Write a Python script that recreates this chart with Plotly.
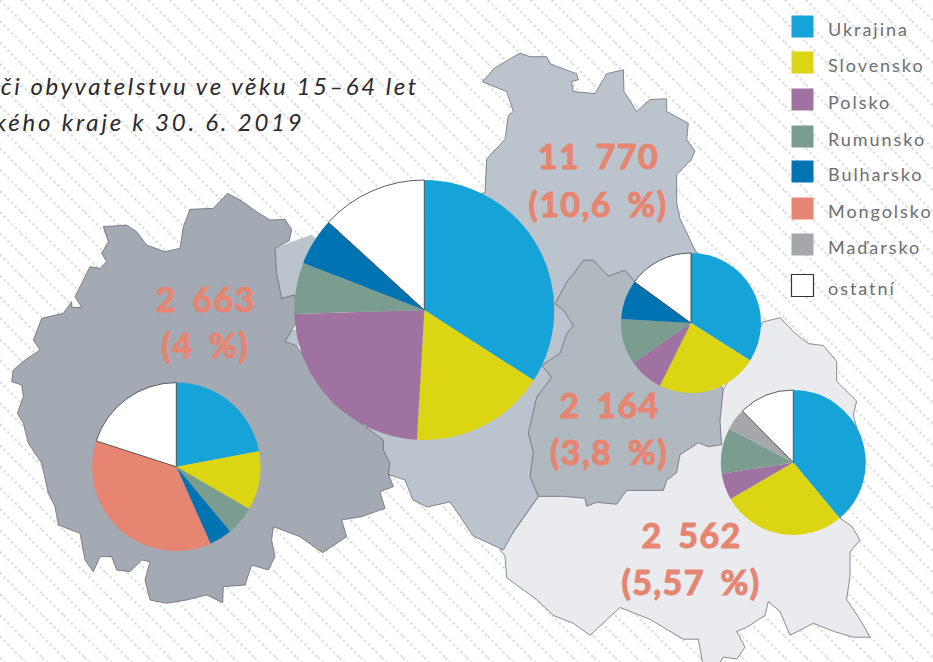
import plotly.graph_objects as go

W, H = 933, 662

# ---- data ----
countries = ["Ukrajina", "Slovensko", "Polsko", "Rumunsko", "Bulharsko", "Mongolsko", "Maďarsko", "ostatní"]
colors = ["#16a3d8", "#dcd513", "#a072a2", "#7b9d8f", "#0074b2", "#e58572", "#a5a7ab", "#ffffff"]
west_values = [22.0, 11.3, 0, 5.6, 4.4, 36.6, 0, 20.0]
center_values = [34.1, 16.8, 23.6, 6.4, 5.9, 0, 0, 13.2]
mid_values = [34.0, 23.4, 8.0, 10.6, 9.1, 0, 0, 15.0]
east_values = [39.0, 27.7, 5.9, 10.2, 0, 0, 4.9, 12.4]

labels_west = ["2 663", "(4 %)"]
labels_center = ["11 770", "(10,6 %)"]
labels_mid = ["2 164", "(3,8 %)"]
labels_east = ["2 562", "(5,57 %)"]
title_lines = ["či obyvatelstvu ve věku 15–64 let", "kého kraje k 30. 6. 2019"]

west_z1 = [(683,70),(720,90),(770,125),(810,150),(855,148),(875,180),(868,212),(825,235),(830,310),(845,385),(883,375),(900,430),(875,482),(855,515),(890,527),(1000,700),(1150,810),(1150,840),(1170,880),(1165,910),(1180,950),(1140,965),(1155,1015),(1085,1040),(1025,1050),(1040,1100),(968,1148),(900,1100),(820,1070),(815,1110),(825,1160),(805,1200),(755,1185),(735,1245),(670,1250),(668,1298),(620,1275),(560,1290),(500,1300),(450,1290),(435,1230),(450,1175),(425,1170),(390,1205),(350,1200),(335,1160),(300,1160),(280,1205),(255,1170),(240,1090),(175,1065),(165,1010),(145,970),(125,880),(85,820),(70,760),(52,730),(70,680),(65,645),(35,635),(40,600),(75,570),(120,540),(100,510),(125,445),(190,430),(215,395),(215,412),(245,412),(225,380),(270,290),(300,295),(320,275),(305,250),(325,215),(310,170),(380,165),(410,185),(440,225),(495,245),(540,235),(550,170),(570,118),(640,115)]
center_z2 = [(97,105),(135,70),(210,33),(240,42),(290,42),(300,60),(380,85),(385,100),(365,105),(370,130),(435,135),(470,85),(520,75),(522,130),(560,180),(600,150),(650,148),(650,180),(715,210),(710,250),(735,280),(725,300),(680,340),(680,410),(690,450),(735,530),(760,560),(500,800),(265,1150),(240,1180),(190,1240),(160,1285),(70,1250),(0,1164),(-69,1177),(-111,1159),(-135,1109),(-180,1096),(-250,1050),(-250,600),(0,400),(105,385),(110,300),(165,250),(175,190),(190,180),(170,130)]
center_notch_z1 = [(825,235),(935,195),(1000,260),(1000,400),(885,375),(845,385),(830,310)]
center_island_z1 = [(855,515),(875,480),(950,480),(950,530),(890,525)]
mid_z2 = [(400,555),(430,555),(475,595),(525,580),(555,610),(700,700),(820,880),(810,960),(815,1020),(775,1025),(745,1015),(690,1045),(680,1090),(650,1110),(640,1135),(590,1135),(530,1135),(500,1170),(440,1165),(410,1175),(405,1155),(340,1150),(265,1150),(240,1100),(250,1040),(235,990),(260,900),(305,850),(275,820),(330,790),(350,740),(370,720),(340,680),(315,665),(350,610),(370,590)]
east_z2 = [(940,710),(990,700),(1030,735),(1075,765),(1120,770),(1160,810),(1160,860),(1220,910),(1210,945),(1240,1040),(1170,1205),(1205,1225),(1230,1260),(1200,1290),(1200,1350),(1190,1410),(1230,1460),(1260,1505),(1210,1505),(1150,1490),(1090,1470),(1020,1500),(990,1440),(955,1415),(945,1450),(890,1480),(860,1490),(885,1530),(860,1560),(820,1555),(800,1580),(760,1580),(745,1510),(700,1510),(600,1460),(510,1430),(420,1500),(370,1470),(310,1450),(260,1410),(170,1355),(165,1300),(150,1285),(190,1240),(240,1180),(265,1150),(600,1000),(820,880)]


def z1(pts):
    return [(x / 3, 170 + y / 3) for x, y in pts]


def z2(pts):
    return [(450 + x / 3, 40 + y / 2.52) for x, y in pts]


fig = go.Figure()

# hatched page background
fig.add_trace(go.Scatter(
    x=[0, W, W, 0, 0], y=[0, 0, H, H, 0], mode="none", fill="toself", fillcolor="#ffffff",
    fillpattern=dict(shape="\\", size=15, solidity=0.13, fgcolor="#d6d6d6", bgcolor="#ffffff", fillmode="replace"),
    hoverinfo="skip", showlegend=False))


def region(pts, color, line="#5a5f66"):
    xs = [p[0] for p in pts] + [pts[0][0]]
    ys = [p[1] for p in pts] + [pts[0][1]]
    fig.add_trace(go.Scatter(x=xs, y=ys, mode="lines", fill="toself", fillcolor=color,
                             line=dict(color=line, width=0.7), hoverinfo="skip", showlegend=False))


region(z2(east_z2), "#e9ebef")
region(z2(center_z2), "#bbc4cd")
region(z1(center_notch_z1), "#bbc4cd", "#bbc4cd")
region(z1(center_island_z1), "#bbc4cd", "#bbc4cd")
region(z1(west_z1), "#a3aab3")
region(z2(mid_z2), "#b0b8c0")

# legend
legend_y = [26.5, 62.5, 99.5, 136.5, 171.5, 208.5, 244.5, 285.5]
for name, col, ly in zip(countries, colors, legend_y):
    fig.add_trace(go.Scatter(
        x=[802.5], y=[ly], mode="markers", showlegend=False, hoverinfo="skip",
        marker=dict(symbol="square", size=22, color=col,
                    line=dict(color="#333333" if col == "#ffffff" else col, width=1.2 if col == "#ffffff" else 0))))
    fig.add_annotation(x=826, y=ly + 2, text=name, showarrow=False, xanchor="left", yanchor="middle", align="left",
                       font=dict(family="Lato", size=18, color="#6d6e71"))


def pie(values, cx, cy, r):
    fig.add_trace(go.Pie(
        labels=countries, values=values, sort=False, direction="clockwise", rotation=0,
        textinfo="none", hoverinfo="label+percent", showlegend=False,
        marker=dict(colors=colors, line=dict(color=["rgba(0,0,0,0)"] * 7 + ["#333333"], width=[0] * 7 + [0.8])),
        domain=dict(x=[(cx - r) / W, (cx + r) / W], y=[1 - (cy + r) / H, 1 - (cy - r) / H])))


pie(west_values, 176.3, 466.8, 84.2)
pie(center_values, 424.3, 310, 130)
pie(mid_values, 691, 323, 70)
pie(east_values, 793.3, 462.5, 72.5)


def label(lines, cx, y1, y2):
    for t, y in zip(lines, (y1, y2)):
        fig.add_annotation(x=cx, y=y, text="<b>" + t + "</b>", showarrow=False,
                           xanchor="center", yanchor="middle",
                           font=dict(family="Lato", size=34, color="#e58572"))


label(labels_west, 205, 298, 344)
label(labels_center, 598, 155, 203)
label(labels_mid, 609, 404, 451)
label(labels_east, 691, 534, 581)

for t, y, xr in zip(title_lines, (85, 121), (421, 307)):
    fig.add_annotation(x=xr, y=y, text="<i>" + t + "</i>", showarrow=False,
                       xanchor="right", yanchor="middle", align="right",
                       font=dict(family="Lato", size=24, color="#2b2b2d"))

fig.update_xaxes(range=[0, W], visible=False, fixedrange=True)
fig.update_yaxes(range=[H, 0], visible=False, fixedrange=True)
fig.update_layout(width=W, height=H, margin=dict(l=0, r=0, t=0, b=0), showlegend=False,
                  paper_bgcolor="#ffffff", plot_bgcolor="#ffffff")

post = """
document.body.style.margin = '0';
document.body.style.overflow = 'hidden';
var gd = document.querySelector('.plotly-graph-div');
gd.querySelectorAll('.annotation-text').forEach(function (t) {
  var s = parseFloat(t.style.fontSize);
  if (s > 30) {
    t.style.letterSpacing = '1.4px';
    t.style.wordSpacing = '6px';
    t.style.stroke = '#e58572';
    t.style.strokeWidth = '1.1px';
  } else if (s > 20) {
    t.style.letterSpacing = t.textContent.indexOf('obyvatelstvu') >= 0 ? '2.55px' : '2.8px';
  } else {
    t.style.letterSpacing = '1.95px';
  }
});
gd.querySelectorAll('defs pattern path').forEach(function (p) {
  p.style.strokeDasharray = '2.3 3';
});
"""
fig.write_html("out.html", post_script=post, config={"displayModeBar": False})
